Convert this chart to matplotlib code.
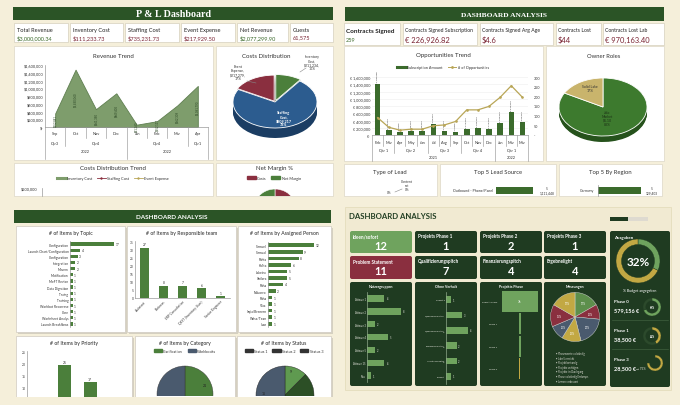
import matplotlib.pyplot as plt
import matplotlib.transforms as mtransforms
from matplotlib.patches import Rectangle, FancyBboxPatch, Patch
from matplotlib.lines import Line2D

plt.rcParams["font.family"] = ["Lato", "DejaVu Sans"]

# ---------------- P & L dashboard (top left) ----------------
pl_kpi_names = ["Total Revenue", "Inventory Cost", "Staffing Cost", "Event Expense", "Net Revenue", "Guests"]
pl_kpi_values = ["$3,000,000.34", "$111,233.73", "$735,231.73", "$217,929.50", "$2,077,299.90", "61,575"]
rev_months = ["Sep", "Oct", "Nov", "Dec", "Jan", "Feb", "Mar", "Apr"]
rev_values = [350000, 1480000, 460000, 870000, 60000, 150000, 560000, 1060000]
rev_labels = ["$352,841", "$1,480,060", "$461,380", "$869,405", "$61,240", "$152,117", "$562,309", "$1,061,790"]
rev_quarters = [("Qtr3", 0, 0), ("Qtr4", 1, 3), ("Qtr4", 4, 6), ("Qtr1", 7, 7)]
rev_years = [("2022", 0, 3), ("2022", 4, 7)]
cost_names = ["Inventory Cost", "Staffing Cost", "Event Expense"]
cost_pct = [10, 73, 17]
cost_texts = ["Inventory\nCost,\n$211,234,\n10%", "Staffing\nCost,\n$809,217\n73%", "Event\nExpense,\n$217,279,\n17%"]
margin_names = ["Costs", "Net Margin"]
margin_pct = [31, 69]

# ---------------- contracts dashboard (top right) ----------------
ct_kpi_names = ["Contracts Signed", "Contracts Signed Subscription", "Contracts Signed Arg Age", "Contracts Lost", "Contracts Lost Lab"]
ct_kpi_values = ["259", "€ 226,926.82", "$4.6", "$44", "€ 970,163.40"]
opp_months = ["Feb", "Mar", "Apr", "May", "Jun", "Jul", "Aug", "Sep", "Oct", "Nov", "Dec", "Jan", "Mar", "Mar"]
opp_amount = [1400000, 150000, 80000, 100000, 100000, 290000, 110000, 70000, 170000, 200000, 170000, 340000, 640000, 350000]
opp_count = [90, 40, 25, 30, 30, 48, 52, 70, 130, 130, 148, 195, 255, 195]
opp_quarters = [("Qtr 1", 0, 1), ("Qtr 2", 2, 4), ("Qtr 3", 5, 7), ("Qtr 4", 8, 10), ("Qtr 1", 11, 13)]
opp_years = [("2021", 0, 10), ("2022", 11, 13)]
owner_names = ["Jolo Market", "Solid Lake"]
owner_pct = [83, 17]
lead_source_name = "Outbound - Phone/Panel"
lead_source_value = 1111448
region_name = "Germany"
region_value = 129403

# ---------------- items dashboard (bottom left) ----------------
topic_names = ["Configuration", "Launch Chart/Configuration", "Configuration", "Integration", "Mavem",
               "Motification", "MeFT Revion", "Data Digration", "Traing", "Training",
               "Workbot Recorrese", "Core", "Worksheet Analys", "Launch Breakflows"]
topic_values = [17, 4, 3, 2, 2, 1, 1, 1, 1, 1, 1, 1, 1, 1]
team_names = ["Assistant", "Business", "ERP Consultation", "QEST (Inventory User)", "Senior Engineer"]
team_values = [31, 7.5, 7.5, 6, 1]
team_labels = ["27", "8", "7", "6", "1"]
person_names = ["Samuel", "Samual", "Rahia", "Kalita", "Lakeira", "Ishilzra", "Raha", "Nduorro",
                "Raha", "Vlaa", "Isqia/Breeern", "Wess/Tean", "Ivan"]
person_values = [12, 9, 8, 6, 5, 5, 4, 2, 1, 1, 1, 1, 1]
priority_values = [19, 12]
priority_labels = ["26", "17"]
category_names = ["Clarification", "Workbooks"]
category_values = [21, 21]
status_names = ["Status 1", "Status 2", "Status 3"]
status_values = [4, 12, 16]
status_labels = ["9", "", "15"]

# ---------------- project dashboard (bottom right) ----------------
tile_names_1 = ["Ideen/sofort", "Projekts Phase 1", "Projekts Phase 2", "Projekts Phase 3"]
tile_values_1 = [12, 1, 2, 1]
tile_names_2 = ["Problem Statement", "Qualifizierungspitch", "Finanzierungspitch", "Ergebnelight"]
tile_values_2 = [11, 7, 4, 4]
nutzer_names = ["Akteure 1", "Akteure 2", "Akteure 3", "Akteure 4", "Akteure 5", "Akteure 15", "Neu"]
nutzer_values = [4, 8, 2, 5, 2, 4, 1]
ohne_names = ["Projekt 0", "Qualifizierungspitch", "Qualifizierungspitch\n0", "Finanzierungspitch\n0",
              "Ausstellungspitch\n0", "Gesamt"]
ohne_values = [1, 3, 4, 2, 2, 1]
phase_names = ["Projekts Phase", "Phase 1", "Phase 2", "Phase 0"]
phase_values = [36, 2, 2, 1]
mess_pct = [17, 10, 20, 13, 10, 15, 17]
mess_legend = ["Phasenwerte vollständig", "Jahr 5 erreicht", "Projekt bestandig", "Projekte verfolgen",
               "Projekte im Durchgang", "Phase vollständig Endanspr.", "Lernen verbessert"]
budget_pct = 32
phase_budget_names = ["Phase 0", "Phase 1", "Phase 3"]
phase_budget_amounts = ["579,156 €", "38,500 €", "28,500 €"]
phase_budget_pct = [69, 42, 75]

W, H = 680, 406
CREAM = "#f5efda"
HEAD = "#2b5426"
DARK = "#1f3b21"
GRN = "#4b7f3b"
MAROON = "#8a2f3f"
SLATE = "#4a5a6e"
GOLD = "#c2a843"
LIGHT = "#6fa35e"

fig = plt.figure(figsize=(6.8, 4.06), dpi=100)
fig.patch.set_facecolor(CREAM)


def R(x0, y0, x1, y1, fc, ec="none", lw=0.5, z=-2, rnd=0):
    if rnd:
        p = FancyBboxPatch((x0 / 100, (H - y1) / 100), (x1 - x0) / 100, (y1 - y0) / 100,
                           boxstyle=f"round,pad=0,rounding_size={rnd / 100}",
                           transform=fig.dpi_scale_trans, fc=fc, ec=ec, lw=lw, zorder=z)
    else:
        p = Rectangle((x0 / 100, (H - y1) / 100), (x1 - x0) / 100, (y1 - y0) / 100,
                      transform=fig.dpi_scale_trans, fc=fc, ec=ec, lw=lw, zorder=z)
    fig.add_artist(p)


def L(x0, y0, x1, y1, c="#999999", lw=0.5):
    fig.add_artist(Line2D([x0 / W, x1 / W], [1 - y0 / H, 1 - y1 / H], transform=fig.transFigure,
                          color=c, lw=lw, zorder=2))


def T(x, y, s, fs=4, c="#222222", ha="left", va="center", fw="normal", fam=None, rot=0):
    kw = {"family": fam} if fam else {}
    fig.text(x / W, 1 - y / H, s, fontsize=fs, color=c, ha=ha, va=va, fontweight=fw,
             rotation=rot, zorder=3, linespacing=1.0, **kw)


def AX(x0, y0, x1, y1):
    ax = fig.add_axes([x0 / W, 1 - y1 / H, (x1 - x0) / W, (y1 - y0) / H])
    ax.set_facecolor("none")
    return ax


def style(ax, spines=("left",), c="#9a9a9a", size=2.6, tc="#333333"):
    for s in ["left", "right", "top", "bottom"]:
        ax.spines[s].set_visible(s in spines)
        ax.spines[s].set_color(c)
        ax.spines[s].set_linewidth(0.5)
    ax.tick_params(length=0, pad=1, labelsize=size, colors=tc)


def pie_px(x0, y0, x1, y1, cx, cy, r, vals, colors, width=None, edge="white", lw=0.4, **kw):
    ax = AX(x0, y0, x1, y1)
    wp = dict(linewidth=lw, edgecolor=edge)
    if width:
        wp["width"] = width
    wedges = ax.pie(vals, colors=colors, startangle=90, counterclock=False, radius=r,
                    center=(cx, -cy), wedgeprops=wp, **kw)[0]
    for w in wedges:
        w.set_clip_on(True)
    ax.set_aspect("auto")
    ax.set_xlim(x0, x1)
    ax.set_ylim(-y1, -y0)
    ax.axis("off")
    return ax


def pie3d(cx, cy, rx, ry, depth, vals, tops, sides, explode=None):
    pad = 6
    ax = AX(cx - rx - pad, cy - ry - pad, cx + rx + pad, cy + ry + depth + pad)
    n = 8
    for k in range(n, 0, -1):
        ax.pie(vals, colors=sides, startangle=90, counterclock=False, explode=explode,
               center=(0, -k * depth / ry / n), wedgeprops=dict(linewidth=0))
    ax.pie(vals, colors=tops, startangle=90, counterclock=False, explode=explode,
           wedgeprops=dict(linewidth=0.6, edgecolor="white"))
    ax.set_aspect("auto")
    ax.set_xlim(-(rx + pad) / rx, (rx + pad) / rx)
    ax.set_ylim(-(ry + depth + pad) / ry, (ry + pad) / ry)
    ax.axis("off")


def cat_table(ax, cats, quarters, years, ys, depths, fs=2.8):
    tr = mtransforms.blended_transform_factory(ax.transData, ax.transAxes)
    for i, m in enumerate(cats):
        ax.text(i, ys[0], m, transform=tr, ha="center", va="center", fontsize=fs, color="#333")
    for lab, a, b in quarters:
        ax.text((a + b) / 2, ys[1], lab, transform=tr, ha="center", va="center", fontsize=fs, color="#333")
    for lab, a, b in years:
        ax.text((a + b) / 2, ys[2], lab, transform=tr, ha="center", va="center", fontsize=fs, color="#333")
    qb = {a for _, a, _ in quarters} | {b + 1 for _, _, b in quarters}
    yb = {a for _, a, _ in years} | {b + 1 for _, _, b in years}
    for b in range(len(cats) + 1):
        d = depths[2] if b in yb else depths[1] if b in qb else depths[0]
        ax.plot([b - 0.5, b - 0.5], [0, -d], transform=tr, clip_on=False, color="#9a9a9a", lw=0.45)


def flegend(handles, labels, x, y, fs=3, ncol=3, tc="#333"):
    lg = fig.legend(handles, labels, loc="center", bbox_to_anchor=(x / W, 1 - y / H), ncol=ncol,
                    frameon=False, fontsize=fs, handlelength=2.2, handletextpad=0.4,
                    columnspacing=1.2, borderpad=0)
    for t in lg.get_texts():
        t.set_color(tc)


# ======================= P & L dashboard =======================
R(13, 8, 333, 21, HEAD, z=-1)
T(173, 14.8, "P & L Dashboard", 7.2, "white", ha="center", fw="bold", fam="Liberation Serif")
kpi_x = [(14, 68), (70, 123), (125, 179), (181, 235), (237, 288), (290, 333)]
kpi_c = ["#3d6b2c", "#7a2433", "#7a2433", "#7a2433", "#3d6b2c", "#7a2433"]
for (x0, x1), n, v, c in zip(kpi_x, pl_kpi_names, pl_kpi_values, kpi_c):
    R(x0, 24, x1, 43, "white", ec="#d6d0bd")
    T(x0 + 3, 30.5, n, 4.1, "#222")
    T(x0 + 3, 38, v, 4.1, c)

R(14, 47, 213, 161, "white", ec="#dcd6c6")
T(113, 57, "Revenue Trend", 4.4, "#333", ha="center")
ax = AX(45, 66, 208, 128)
ax.fill_between(range(len(rev_values)), rev_values, color="#7e9d6c", ec="#5f7f50", lw=0.6)
ax.set_xlim(-0.5, len(rev_values) - 0.5)
ax.set_ylim(0, 1600000)
ax.set_yticks(range(0, 1600001, 200000))
ax.set_yticklabels(["$-" if v == 0 else f"${v:,}" for v in range(0, 1600001, 200000)])
ax.set_xticks([])
style(ax, ("left", "bottom"), size=2.8)
for i, (v, lab) in enumerate(zip(rev_values, rev_labels)):
    ax.text(i, v / 2, lab, rotation=90, ha="center", va="center", fontsize=2.1, color="#2f4a28")
cat_table(ax, rev_months, rev_quarters, rev_years, [-0.1, -0.245, -0.39], [0.17, 0.31, 0.52])

R(216, 47, 333, 161, "white", ec="#dcd6c6")
T(266, 57, "Costs Distribution", 4.4, "#333", ha="center")
pie3d(275, 103, 42, 26, 10, cost_pct, [GRN, "#2c5c8f", MAROON], ["#2e5a22", "#1b3d63", "#5c1e29"],
      explode=[0.06, 0, 0.04])
T(312, 63, cost_texts[0], 2.5, "#333", ha="center")
T(238, 73, cost_texts[2], 2.5, "#333", ha="center")
T(284, 119, cost_texts[1], 2.7, "white", ha="center", fw="bold")
L(300, 73, 306, 69, "#888", 0.4)
L(247, 82, 256, 84, "#888", 0.4)

R(14, 164, 213, 197, "white", ec="#dcd6c6")
T(113, 169, "Costs Distribution Trend", 4.4, "#333", ha="center")
flegend([Line2D([], [], color="#7e9d6c", lw=2.2),
         Line2D([], [], color=MAROON, lw=0.6, marker="+", ms=2),
         Line2D([], [], color="#b9a657", lw=0.6, marker="+", ms=2)],
        ["Inventory Cost", "Staffing Cost", "Event Expense"], 113, 179, fs=2.8)
T(37, 189, "$200,000", 2.8, "#333", ha="right")
L(42, 189, 42, 197, "#9a9a9a", 0.5)

R(216, 164, 333, 197, "white", ec="#dcd6c6")
T(274, 169, "Net Margin %", 4.4, "#333", ha="center")
flegend([Patch(color=MAROON), Patch(color=GRN)], margin_names, 274, 179, fs=2.8, ncol=2)
pie_px(248, 186, 302, 197, 275, 212, 22, margin_pct, [MAROON, GRN])

# ======================= Contracts dashboard =======================
R(345, 8, 664, 22, HEAD, z=-1)
T(504, 15.5, "DASHBOARD ANALYSIS", 5.4, "white", ha="center", fw="bold", fam="Liberation Serif")
ct_x = [(344, 400), (403, 477), (480, 553), (556, 601), (603, 664)]
for k, ((x0, x1), n, v) in enumerate(zip(ct_x, ct_kpi_names, ct_kpi_values)):
    R(x0, 24, x1, 46, "white", ec="#d6d0bd")
    if k == 0:
        T(x0 + 2, 31, n, 4.6, "#222", fw="bold")
        T(x0 + 2, 40.5, v, 4.0, "#3d6b2c")
    else:
        T(x0 + 2, 30.5, n, 3.7, "#222")
        T(x0 + 2, 40.5, v, 5.4, "#7a2433")

R(344, 47, 543, 162, "white", ec="#dcd6c6")
T(443, 55, "Opportunities Trend", 4.4, "#333", ha="center")
flegend([Line2D([], [], color="#3b6b2c", lw=2.2),
         Line2D([], [], color="#b9a657", lw=0.7, marker="o", ms=1)],
        ["Subscription Amount", "# of Opportunities"], 443, 68, fs=2.8, ncol=2)
ax = AX(372, 78, 528, 136)
ax.bar(range(len(opp_amount)), opp_amount, width=0.5, color="#3b6b2c")
ax.set_xlim(-0.5, len(opp_amount) - 0.5)
ax.set_ylim(0, 1600000)
ax.set_yticks(range(0, 1600001, 200000))
ax.set_yticklabels(["€-" if v == 0 else f"€ {v:,}" for v in range(0, 1600001, 200000)])
ax.set_xticks([])
style(ax, ("bottom",), size=2.7)
ax.grid(axis="y", color="#eeeeee", lw=0.4)
ax.set_axisbelow(True)
for i, v in enumerate(opp_amount):
    ax.text(i, v + 40000, f"€ {v:,}", rotation=90, ha="center", va="bottom", fontsize=1.7, color="#333")
cat_table(ax, opp_months, opp_quarters, opp_years, [-0.12, -0.245, -0.385], [0.19, 0.31, 0.45])
ax2 = ax.twinx()
ax2.set_facecolor("none")
ax2.plot(range(len(opp_count)), opp_count, color="#b9a657", lw=0.9, marker="o", ms=0.9)
ax2.set_ylim(0, 300)
ax2.set_yticks(range(0, 301, 50))
ax2.set_yticklabels(["-" if v == 0 else str(v) for v in range(0, 301, 50)])
style(ax2, (), size=2.7)
ax2.tick_params(pad=4)

R(546, 47, 664, 162, "white", ec="#dcd6c6")
T(604, 56, "Owner Roles", 4.2, "#333", ha="center")
pie3d(603, 108, 44, 29, 6, owner_pct, ["#3d7a2e", "#c9b46c"], ["#26521c", "#8f7f45"])
T(590, 89, "Solid Lake\n17%", 2.5, "#333", ha="center")
T(607, 119, "Jolo\nMarket\n$6.10\n83%", 2.5, "#1c3016", ha="center")

R(344, 165, 437, 197, "white", ec="#dcd6c6")
R(440, 165, 556, 197, "white", ec="#dcd6c6")
R(559, 165, 662, 197, "white", ec="#dcd6c6")
T(390, 173, "Type of Lead", 4.2, "#333", ha="center")
T(498, 173, "Top 5 Lead Source", 4.2, "#333", ha="center")
T(610, 173, "Top 5 By Region", 4.2, "#333", ha="center")
T(407, 186, "Content\nset\n0%", 2.3, "#333", ha="center")
T(389, 193, "0%", 2.3, "#333", ha="center")
L(395, 193, 402, 190, "#888", 0.4)
ax = AX(496, 186, 545, 197)
ax.barh([0], [lead_source_value], height=0.8, color="#3b6b2c")
ax.set_xlim(0, lead_source_value * 1.32)
ax.set_ylim(-0.6, 0.6)
ax.axis("off")
T(493, 191, lead_source_name, 2.6, "#333", ha="right")
T(547, 191, "5\n1,111,448", 2.3, "#333", ha="center")
ax = AX(598, 186, 650, 197)
ax.barh([0], [region_value], height=0.8, color="#3b6b2c")
ax.set_xlim(0, region_value * 1.2)
ax.set_ylim(-0.6, 0.6)
ax.set_xticks([])
ax.set_yticks([])
style(ax, ("left",))
T(594, 191, region_name, 2.6, "#333", ha="right")
T(652, 191, "5\n129,403", 2.3, "#333", ha="center")

# ======================= Items dashboard =======================
R(14, 211, 331, 224, HEAD, z=-1)
T(172, 218, "DASHBOARD ANALYSIS", 4.6, "white", ha="center", fw="bold")
cards = [(16, 227, 125, 333), (127, 227, 236, 333), (238, 227, 331, 333),
         (16, 337, 132, 400), (135, 337, 235, 400), (237, 337, 331, 400)]
card_titles = ["# of Items by Topic", "# of Items by Responsible team", "# of Items by Assigned Person",
               "# of Items by Priority", "# of Items by Category", "# of Items by Status"]
for (x0, y0, x1, y1), t in zip(cards, card_titles):
    R(x0 + 1.5, y0 + 1.5, x1 + 1.5, y1 + 1.5, "#d5d0c0")
    R(x0, y0, x1, y1, "white", ec="#cfcac0")
    T((x0 + x1) / 2, y0 + 6.5, t, 3.7, "#222", ha="center")

ax = AX(70, 242, 118, 328)
ax.barh(range(len(topic_values)), topic_values, height=0.55, color=GRN)
ax.set_ylim(len(topic_values) - 0.5, -0.5)
ax.set_xlim(0, 18.5)
ax.set_yticks(range(len(topic_names)))
ax.set_yticklabels(topic_names)
ax.set_xticks([])
style(ax, ("left",), size=2.3)
for i, v in enumerate(topic_values):
    ax.text(v + 0.5, i, str(v), va="center", fontsize=2.3, color="#333")

ax = AX(135, 242, 230, 299)
ax.bar(range(len(team_values)), team_values, width=0.5, color=GRN)
ax.set_ylim(0, 35)
ax.set_xlim(-0.5, len(team_values) - 0.5)
ax.set_yticks(range(0, 36, 5))
ax.set_xticks(range(len(team_names)))
ax.set_xticklabels(team_names, rotation=45, ha="right", rotation_mode="anchor")
style(ax, ("left", "bottom"), size=2.3)
for i, (v, lab) in enumerate(zip(team_values, team_labels)):
    ax.text(i, v + 0.8, lab, ha="center", va="bottom", fontsize=2.3, color="#333")

ax = AX(268, 243, 318, 328)
ax.barh(range(len(person_values)), person_values, height=0.55, color=GRN)
ax.set_ylim(len(person_values) - 0.5, -0.5)
ax.set_xlim(0, 13)
ax.set_yticks(range(len(person_names)))
ax.set_yticklabels(person_names)
ax.set_xticks([])
style(ax, ("left",), size=2.4)
for i, v in enumerate(person_values):
    ax.text(v + 0.4, i, str(v), va="center", fontsize=2.3, color="#333")

ax = AX(27, 352, 128, 412)
ax.bar(range(len(priority_values)), priority_values, width=0.52, color=GRN)
ax.set_xlim(-1.5, 2.5)
ax.set_ylim(0, 25)
ax.set_yticks(range(10, 26, 5))
ax.set_xticks([])
style(ax, ("left",), size=2.4)
for i, (v, lab) in enumerate(zip(priority_values, priority_labels)):
    ax.text(i, v + 0.6, lab, ha="center", va="bottom", fontsize=2.4, color="#333")

flegend([Patch(color=GRN), Patch(color=SLATE)], category_names, 185, 352, fs=2.7, ncol=2)
pie_px(137, 358, 233, 397, 185, 395, 28, category_values, [GRN, SLATE], edge="#333", lw=0.3)
T(205, 386, "21", 2.6, "#222", ha="center")

status_colors = ["#5f9a50", "#2c4f26", SLATE]
flegend([Patch(color="#333")] * 3, status_names, 284, 352, fs=2.7, ncol=3)
pie_px(239, 358, 329, 397, 285, 396, 29, status_values, status_colors, edge="#222", lw=0.3)
T(291, 372, status_labels[0], 2.6, "#222", ha="center")
T(264, 394, status_labels[2], 2.6, "#222", ha="center")

R(0, 397.5, 345, 406, CREAM, z=5)

# ======================= Project dashboard =======================
R(345, 208, 671, 391, "#f1ead2", ec="#e2dab8", z=-3)
T(349, 217, "DASHBOARD ANALYSIS", 5.6, "#233f23", fw="bold")
R(610, 218, 628, 222, DARK, z=-1)
R(628, 218, 648, 222, "#dedad0", z=-1)

tile_x = [(350, 412), (415, 477), (480, 542), (544, 606)]
for k, ((x0, x1), n, v) in enumerate(zip(tile_x, tile_names_1, tile_values_1)):
    R(x0, 232, x1, 254, LIGHT if k == 0 else DARK, rnd=2, z=-1)
    T(x0 + 3, 237, n, 3.3, "white", fw="bold")
    T((x0 + x1) / 2, 247, str(v), 8, "white", ha="center", fw="bold")
for k, ((x0, x1), n, v) in enumerate(zip(tile_x, tile_names_2, tile_values_2)):
    R(x0, 257, x1, 280, MAROON if k == 0 else DARK, rnd=2, z=-1)
    T(x0 + 3, 262, n, 3.3, "white", fw="bold")
    T((x0 + x1) / 2, 272, str(v), 8, "white", ha="center", fw="bold")
chart_titles = ["Nutzergruppen", "Ohne Verhalt", "Projekts Phase", "Messungen"]
for (x0, x1), t in zip(tile_x, chart_titles):
    R(x0, 283, x1, 387, DARK, rnd=2, z=-1)
    T((x0 + x1) / 2, 287.5, t, 2.6, "white", ha="center", fw="bold")

ax = AX(367, 293, 405, 383)
ax.barh(range(len(nutzer_values)), nutzer_values, height=0.5, color=LIGHT)
ax.set_ylim(len(nutzer_values) - 0.5, -0.5)
ax.set_xlim(0, 9)
ax.set_yticks(range(len(nutzer_names)))
ax.set_yticklabels(nutzer_names)
ax.set_xticks([])
style(ax, ("left",), c="#8fa88a", size=1.8, tc="#e8e8e0")
for i, v in enumerate(nutzer_values):
    ax.text(v + 0.4, i, str(v), va="center", fontsize=1.8, color="#e8e8e0")

ax = AX(446, 293, 474, 385)
ax.barh(range(len(ohne_values)), ohne_values, height=0.45, color=LIGHT)
ax.set_ylim(len(ohne_values) - 0.5, -0.5)
ax.set_xlim(0, 5.1)
ax.set_yticks(range(len(ohne_names)))
ax.set_yticklabels(ohne_names)
ax.set_xticks([])
style(ax, ("left",), c="#8fa88a", size=1.6, tc="#e8e8e0")
for i, v in enumerate(ohne_values):
    ax.text(v + 0.25, i, str(v), va="center", fontsize=1.8, color="#e8e8e0")

ax = AX(499, 291, 540, 381)
ax.barh(range(len(phase_values)), phase_values, left=[-v / 2 for v in phase_values], height=0.92,
        color=[LIGHT, LIGHT, LIGHT, GOLD])
ax.set_xlim(-20.5, 20.5)
ax.set_ylim(len(phase_values) - 0.5, -0.5)
ax.set_yticks(range(len(phase_names)))
ax.set_yticklabels(phase_names)
ax.set_xticks([])
style(ax, (), size=1.7, tc="#e8e8e0")
ax.text(0, 0, str(phase_values[0]), ha="center", va="center", fontsize=2.2, color="white")

mess_colors = ["#5d8f4c", MAROON, SLATE, GOLD, SLATE, MAROON, GOLD]
pie_px(548, 292, 604, 345, 575, 318, 24.5, mess_pct, mess_colors, edge="#dddddd", lw=0.3,
       labels=[f"{p}%" for p in mess_pct], labeldistance=0.65,
       textprops=dict(fontsize=1.8, color="white", ha="center", va="center"))
for i, s in enumerate(mess_legend):
    T(556, 354 + i * 4.6, "• " + s, 1.8, "#e0e0d8")

R(610, 232, 670, 388, DARK, rnd=2, z=-1)
T(614, 238, "Ausgaben", 3.2, "white", fw="bold")
pie_px(612, 238, 666, 287, 638, 262, 22, [budget_pct, 100 - budget_pct], [LIGHT, GOLD], width=5.5,
       edge=DARK, lw=0.3)
T(638, 262, f"{budget_pct}%", 8.5, "white", ha="center", fw="bold")
T(640, 291, "% Budget angegeben", 2.6, "white", ha="center")
ring_colors = [LIGHT, GOLD, GOLD]
for k, (n, a, p) in enumerate(zip(phase_budget_names, phase_budget_amounts, phase_budget_pct)):
    y = 302 + k * 29
    T(614, y, n, 3.1, "white", fw="bold")
    T(614, y + 8.5, a, 4.0, "white", fw="bold")
    if k < 2:
        pie_px(640, y - 6, 664, y + 18, 652, y + 6, 9, [p, 100 - p], [ring_colors[k], "#2c4a2c"],
               width=2.8, edge=DARK, lw=0.2)
        T(652, y + 6, f"{p}%", 1.9, "white", ha="center", fw="bold")
        L(612, y + 19, 668, y + 19, "#3f5f3f", 0.5)
    else:
        pie_px(640, y - 8, 666, y + 16, 655, y + 4, 8, [p, 100 - p], [GOLD, DARK], width=2.5,
               edge=DARK, lw=0.2)
        T(636, y + 9, f"→ {p}%", 2.2, "#e0e0d8")

fig.savefig("out.png", dpi=100, facecolor=fig.get_facecolor())
